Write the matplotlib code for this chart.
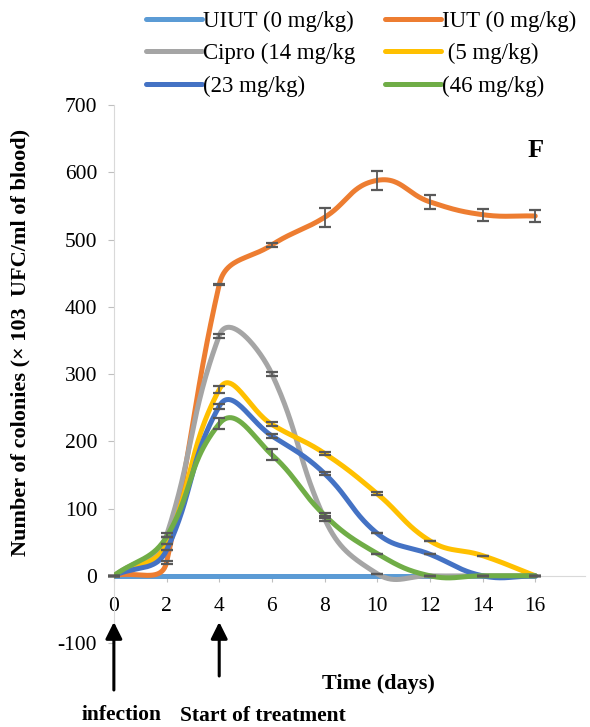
import numpy as np
import matplotlib
matplotlib.use("Agg")
import matplotlib.pyplot as plt
from matplotlib.lines import Line2D

plt.rcParams["axes.unicode_minus"] = False

# Data
days = [0, 2, 4, 6, 8, 10, 12, 14, 16]
uiut = [0, 0, 0, 0, 0, 0, 0, 0, 0]
iut = [0, 20, 433, 492, 533, 588, 556, 537, 535]
cipro = [0, 60, 357, 300, 85, 3, 0, 0, 0]
dose5 = [0, 48, 277, 225, 182, 122, 52, 30, 0]
dose23 = [0, 38, 252, 208, 152, 63, 32, 0, 0]
dose46 = [0, 58, 226, 180, 90, 33, 0, 0, 0]

err_iut = [0, 2, 1, 3, 14, 14, 10, 9, 9]
err_cipro = [0, 3, 3, 3, 4, 0, 0, 0, 0]
err_5 = [0, 0, 5, 3, 2, 2, 0, 0, 0]
err_23 = [0, 0, 4, 3, 2, 0, 0, 0, 0]
err_46 = [0, 0, 8, 8, 4, 0, 0, 0, 0]

labels = ["UIUT (0 mg/kg)", "IUT (0 mg/kg)", "Cipro (14 mg/kg", " (5 mg/kg)",
          "(23 mg/kg)", "(46 mg/kg)"]
colors = ["#5B9BD5", "#ED7D31", "#A5A5A5", "#FFC000", "#4472C4", "#70AD47"]

serif = "Liberation Serif"

# échelle en pixels (pour le lissage)
PX_X = 26.55
PX_Y = 0.6725
K = 0.42


def lissage_excel(x, y, n=50):
    # courbe lissée (Bezier) : tangente pondérée par la longueur des segments voisins
    p = np.column_stack([np.asarray(x, float) * PX_X, np.asarray(y, float) * PX_Y])
    m = len(p)
    tang = []
    for i in range(m):
        v = np.zeros(2)
        if i > 0:
            a = p[i] - p[i - 1]
            v += a * np.hypot(*a)
        if i < m - 1:
            b = p[i + 1] - p[i]
            v += b * np.hypot(*b)
        nv = np.hypot(*v)
        tang.append(v / nv if nv > 0 else v)
    out = []
    t = np.linspace(0, 1, n)[:, None]
    for i in range(m - 1):
        p1, p2 = p[i], p[i + 1]
        d = np.hypot(*(p2 - p1))
        c1 = p1 + K * d * tang[i]
        c2 = p2 - K * d * tang[i + 1]
        seg = ((1 - t) ** 3) * p1 + 3 * ((1 - t) ** 2) * t * c1 + 3 * (1 - t) * t ** 2 * c2 + t ** 3 * p2
        out.append(seg if i == 0 else seg[1:])
    s = np.vstack(out)
    return s[:, 0] / PX_X, s[:, 1] / PX_Y


fig = plt.figure(figsize=(5.9, 7.27), dpi=100)
ax = fig.add_axes([0.193, 0.1155, 0.799, 0.740])

series = [uiut, iut, cipro, dose5, dose23, dose46]
errs = [None, err_iut, err_cipro, err_5, err_23, err_46]
handles = []
for vals, err, col, lab in zip(series, errs, colors, labels):
    xs, ys = lissage_excel(days, vals)
    ax.plot(xs, ys, color=col, lw=3.6, solid_capstyle="round", zorder=3)
    if err is not None:
        ax.errorbar(days, vals, yerr=err, fmt="none", ecolor="#595959",
                    elinewidth=1.3, capsize=4, capthick=1.6, zorder=4, clip_on=False)
    handles.append(Line2D([], [], color=col, lw=3.6, solid_capstyle="round", label=lab))

ax.set_xlim(0, 17.9)
ax.set_ylim(-100, 700)
ax.set_xticks(range(0, 17, 2))
ax.set_yticks(range(-100, 701, 100))

for s in ["top", "right"]:
    ax.spines[s].set_visible(False)
ax.spines["bottom"].set_position(("data", 0))
ax.spines["bottom"].set_color("#D9D9D9")
ax.spines["left"].set_color("#D9D9D9")
ax.spines["bottom"].set_zorder(1)

ax.tick_params(axis="x", direction="out", length=4, color="#BFBFBF", pad=11, labelsize=15.5)
ax.tick_params(axis="y", direction="out", length=4, color="#BFBFBF", pad=8, labelsize=15.5)
for lbl in ax.get_xticklabels() + ax.get_yticklabels():
    lbl.set_fontfamily(serif)

ax.text(0.894, 0.916, "F", transform=ax.transAxes, fontsize=19, fontweight="bold",
        family=serif, ha="center", va="center")

fig.text(0.034, 1 - 342 / 727, "Number of colonies (× 103  UFC/ml of blood)", rotation=90,
         ha="center", va="center", fontsize=16, fontweight="bold", family=serif)
fig.text(378 / 590, 1 - 684 / 727, "Time (days)", ha="center", va="center",
         fontsize=16, fontweight="bold", family=serif)
fig.text(122 / 590, 1 - 715 / 727, "infection", ha="center", va="center",
         fontsize=15.5, fontweight="bold", family=serif)
fig.text(263 / 590, 1 - 716 / 727, "Start of treatment", ha="center", va="center",
         fontsize=15.5, fontweight="bold", family=serif)

# flèches
fleche = dict(arrowstyle="-|>,head_length=1.0,head_width=0.5", color="black", lw=2.2,
              shrinkA=0, shrinkB=0)
ax.annotate("", xy=(0, 1 - 622 / 727), xytext=(0, 1 - 690 / 727),
            xycoords=("data", "figure fraction"), textcoords=("data", "figure fraction"),
            arrowprops=fleche, annotation_clip=False)
ax.annotate("", xy=(4, 1 - 622 / 727), xytext=(4, 1 - 676 / 727),
            xycoords=("data", "figure fraction"), textcoords=("data", "figure fraction"),
            arrowprops=fleche, annotation_clip=False)

ordre = [0, 2, 4, 1, 3, 5]
fig.legend([handles[i] for i in ordre], [labels[i] for i in ordre], ncol=2,
           loc="upper left", bbox_to_anchor=(0.212, 1.014), frameon=False,
           prop={"family": serif, "size": 16.5}, handlelength=2.45, handletextpad=0.05,
           columnspacing=1.3, labelspacing=0.5)

fig.savefig("out.png", dpi=100)
plt.close(fig)
